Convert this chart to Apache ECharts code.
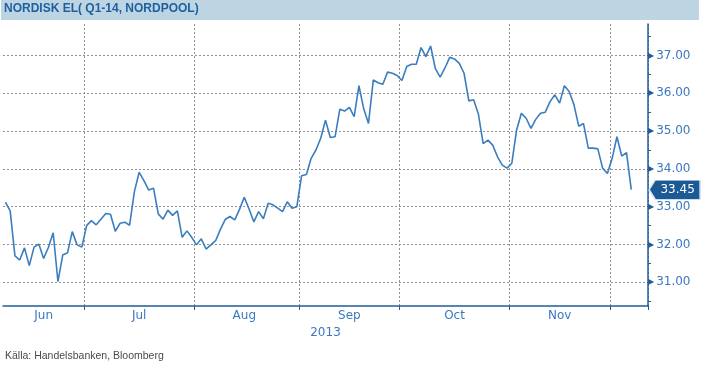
<!DOCTYPE html>
<html>
<head>
<meta charset="utf-8">
<script src="https://cdn.jsdelivr.net/npm/echarts@6/dist/echarts.min.js"></script>
<style>
html,body{margin:0;padding:0;background:#fff;}
#c{width:703px;height:370px;}
</style>
</head>
<body>
<div id="c"></div>
<script>
// ---- data (trading days, 2013) ----
var junDays = [6,7,10,11,12,13,14,17,18,19,20,21,24,25,26,27,28];
var julDays = [1,2,3,4,5,8,9,10,11,12,15,16,17,18,19,22,23,24,25,26,29,30,31];
var augDays = [1,2,5,6,7,8,9,12,13,14,15,16,19,20,21,22,23,26,27,28,29,30];
var sepDays = [2,3,4,5,6,9,10,11,12,13,16,17,18,19,20,23,24,25,26,27,30];
var octDays = [1,2,3,4,7,8,9,10,11,14,15,16,17,18,21,22,23,24,25,28,29,30,31];
var novDays = [1,4,5,6,7,8,11,12,13,14,15,18,19,20,21,22,25,26,27,28,29];
var decDays = [2,3,4,5,6,9,10,11];

var junVals = [33.12,32.89,31.70,31.59,31.91,31.44,31.93,32.01,31.63,31.92,32.31,31.02,31.72,31.78,32.34,31.99,31.93];
var julVals = [32.50,32.63,32.52,32.67,32.82,32.80,32.35,32.56,32.59,32.51,33.40,33.91,33.69,33.44,33.49,32.81,32.67,32.91,32.77,32.89,32.19,32.36,32.19];
var augVals = [31.99,32.15,31.88,31.99,32.10,32.40,32.66,32.74,32.65,32.93,33.25,32.94,32.60,32.87,32.68,33.09,33.05,32.96,32.87,33.13,32.96,33.00];
var sepVals = [33.82,33.85,34.28,34.50,34.81,35.29,34.83,34.85,35.58,35.53,35.63,35.38,36.20,35.59,35.20,36.35,36.28,36.24,36.56,36.53,36.47];
var octVals = [36.34,36.71,36.77,36.77,37.21,36.97,37.25,36.65,36.43,36.67,36.95,36.91,36.79,36.53,35.80,35.83,35.45,34.67,34.76,34.63,34.32,34.10,34.02];
var novVals = [34.15,35.03,35.47,35.34,35.07,35.31,35.47,35.50,35.78,35.96,35.74,36.20,36.05,35.70,35.13,35.20,34.55,34.55,34.53,34.02,33.88];
var decVals = [34.28,34.85,34.34,34.43,33.45];

var monthNames = ['Jun','Jul','Aug','Sep','Oct','Nov'];
var labelDates = ['2013-06-18','2013-07-16','2013-08-15','2013-09-16','2013-10-16','2013-11-15'];
var boundaryDates = ['2013-07-01','2013-08-01','2013-09-02','2013-10-01','2013-11-01','2013-12-02'];
var yearLabel = '2013';
var titleText = 'NORDISK EL( Q1-14, NORDPOOL)';
var sourceText = 'Källa: Handelsbanken, Bloomberg';

// ---- build ----
function pad(n){return (n<10?'0':'')+n;}
var categories = [];
[[6,junDays],[7,julDays],[8,augDays],[9,sepDays],[10,octDays],[11,novDays],[12,decDays]].forEach(function(m){
  m[1].forEach(function(d){categories.push('2013-'+pad(m[0])+'-'+pad(d));});
});
var values = [].concat(junVals,julVals,augVals,sepVals,octVals,novVals,decVals);
var lastValue = values[values.length-1];

var blueText = '#3a78c0';
var axisBlue = '#1f5d99';

var chart = echarts.init(document.getElementById('c'), null, {renderer:'canvas'});
chart.setOption({
  animation:false,
  grid:{left:3,right:55,top:24,bottom:64,outerBoundsMode:'none',containLabel:false},
  graphic:[
    {type:'rect',left:1,top:0,shape:{width:698,height:20},style:{fill:'#bdd5e2'},z:0},
    {type:'text',left:4,top:3,style:{text:titleText,fill:'#1d5f9f',font:'bold 12px "Liberation Sans", Arial, sans-serif'},z:1},
    {type:'text',left:5,top:351,style:{text:sourceText,fill:'#4a4a4a',font:'10.5px "Liberation Sans", Arial, sans-serif'},z:1}
  ],
  xAxis:{
    type:'category',
    data:categories,
    boundaryGap:true,
    name:yearLabel,
    nameLocation:'middle',
    nameGap:18,
    nameTextStyle:{color:blueText,fontSize:12,fontFamily:'DejaVu Sans'},
    axisLine:{lineStyle:{color:axisBlue,width:1.5}},
    axisTick:{show:true,alignWithLabel:false,length:4,lineStyle:{color:axisBlue},
      interval:function(i,v){return boundaryDates.indexOf(v)>=0;}},
    splitLine:{show:true,lineStyle:{color:'#909090',type:[2,2],width:1},
      interval:function(i,v){return boundaryDates.indexOf(v)>=0;}},
    axisLabel:{color:blueText,fontSize:12,fontFamily:'DejaVu Sans',margin:4,
      interval:function(i,v){return labelDates.indexOf(v)>=0;},
      formatter:function(v){var k=labelDates.indexOf(v);return k>=0?monthNames[k]:'';}}
  },
  yAxis:{
    type:'value',
    position:'right',
    min:30.373,
    max:37.833,
    splitNumber:7,
    axisLine:{show:true,lineStyle:{color:axisBlue,width:1.5}},
    axisTick:{show:false},
    minorTick:{show:true,splitNumber:2,length:3,lineStyle:{color:axisBlue,width:1}},
    splitLine:{show:true,showMinLine:false,showMaxLine:false,lineStyle:{color:'#909090',type:[2,2],width:1}},
    axisLabel:{margin:0,showMinLabel:false,showMaxLabel:false,
      formatter:function(v){return '{t|\u25B6}{v|'+v.toFixed(2)+'}';},
      rich:{t:{color:axisBlue,fontSize:8,fontFamily:'DejaVu Sans',padding:[0,2,0,0]},
            v:{color:blueText,fontSize:12,fontFamily:'DejaVu Sans'}}}
  },
  series:[{
    type:'line',
    data:values,
    showSymbol:false,
    symbol:'none',
    lineStyle:{color:'#3a7ebf',width:1.6},
    itemStyle:{color:'#3a7ebf'},
    markPoint:{
      silent:true,
      data:[{coord:[categories[categories.length-1],lastValue],value:lastValue}],
      symbol:'path://M0,9.5 L6,0 L51,0 L51,19 L6,19 Z',
      symbolSize:[51,19],
      symbolKeepAspect:false,
      symbolOffset:[29,0],
      itemStyle:{color:'#1c5a96',borderColor:'#d5e3ef',borderWidth:1},
      label:{show:true,position:'inside',offset:[3,0],color:'#fff',fontSize:12,fontFamily:'DejaVu Sans',
        formatter:function(p){return Number(p.value).toFixed(2);}}
    }
  }]
});
</script>
</body>
</html>
